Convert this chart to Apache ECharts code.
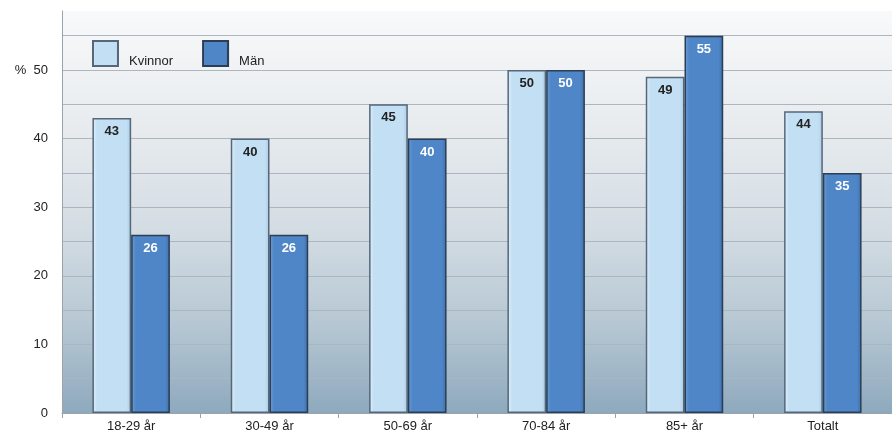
<!DOCTYPE html>
<html>
<head>
<meta charset="utf-8">
<script src="https://cdn.jsdelivr.net/npm/echarts@6/dist/echarts.min.js"></script>
<style>
  html, body { margin: 0; padding: 0; background: #ffffff; }
  #chart { width: 892px; height: 436px; }
</style>
</head>
<body>
<div id="chart"></div>
<script>
// Andel per åldersgrupp, kvinnor och män (%)
const categories = ['18-29 år', '30-49 år', '50-69 år', '70-84 år', '85+ år', 'Totalt'];
const kvinnor = [43, 40, 45, 50, 49, 44];
const man = [26, 26, 40, 50, 55, 35];
const seriesNames = ['Kvinnor', 'Män'];

const chart = echarts.init(document.getElementById('chart'), null, { renderer: 'canvas' });

const font = 'Liberation Sans, Arial, sans-serif';

function barSeries(name, data, fill, edge, labelColor) {
  return {
    name: name,
    type: 'bar',
    data: data,
    barWidth: '28%',
    barGap: '0%',
    itemStyle: {
      color: {
        type: 'linear', x: 0, y: 0, x2: 1, y2: 0,
        colorStops: [
          { offset: 0, color: fill[0] },
          { offset: 0.12, color: fill[1] },
          { offset: 0.88, color: fill[1] },
          { offset: 1, color: fill[2] }
        ]
      },
      borderColor: edge,
      borderWidth: 1.5
    },
    label: {
      show: true,
      position: 'insideTop',
      distance: 7,
      color: labelColor,
      fontFamily: font,
      fontWeight: 'bold',
      fontSize: 13
    }
  };
}

chart.setOption({
  animation: false,
  backgroundColor: '#ffffff',
  grid: {
    left: 62,
    top: 11,
    width: 834,
    bottom: 23,
    show: true,
    borderWidth: 0,
    backgroundColor: {
      type: 'linear', x: 0, y: 0, x2: 0, y2: 1,
      colorStops: [
        { offset: 0, color: '#f8f9fa' },
        { offset: 0.3, color: '#e7ebee' },
        { offset: 0.55, color: '#d3dce3' },
        { offset: 0.78, color: '#b6c7d3' },
        { offset: 1, color: '#8ea9bd' }
      ]
    }
  },
  legend: {
    left: 92,
    top: 40,
    padding: 0,
    itemWidth: 25,
    itemHeight: 25,
    itemGap: 29,
    icon: 'rect',
    data: seriesNames,
    formatter: '{t|{name}}',
    textStyle: {
      fontFamily: font,
      fontSize: 13,
      color: '#222',
      rich: {
        t: {
          fontFamily: font,
          fontSize: 13,
          color: '#222',
          padding: [16, 0, 0, 6]
        }
      }
    }
  },
  xAxis: {
    type: 'category',
    data: categories,
    axisLine: { show: true, lineStyle: { color: '#9aa3aa', width: 1 } },
    axisTick: { show: true, length: 5, lineStyle: { color: '#9aa3aa' } },
    axisLabel: {
      fontFamily: font,
      fontSize: 13,
      color: '#222',
      margin: 7
    }
  },
  yAxis: {
    type: 'value',
    min: 0,
    max: 58.6,
    interval: 5,
    axisLine: { show: true, lineStyle: { color: '#9aa3aa', width: 1 } },
    axisTick: { show: false },
    splitLine: { show: true, showMaxLine: false, lineStyle: { color: '#adb6be', width: 1 } },
    axisLabel: {
      fontFamily: font,
      fontSize: 13,
      color: '#222',
      margin: 14,
      showMaxLabel: false,
      formatter: function (v) {
        if (v % 10 !== 0) return '';
        return v === 50 ? '%  50' : String(v);
      }
    }
  },
  series: [
    barSeries(seriesNames[0], kvinnor, ['#e3f1fb', '#c3dff4', '#a9c8e0'], '#56677a', '#222222'),
    barSeries(seriesNames[1], man, ['#6e9fd6', '#4f86c7', '#3c6ea9'], '#2c3e55', '#ffffff')
  ]
});
</script>
</body>
</html>
